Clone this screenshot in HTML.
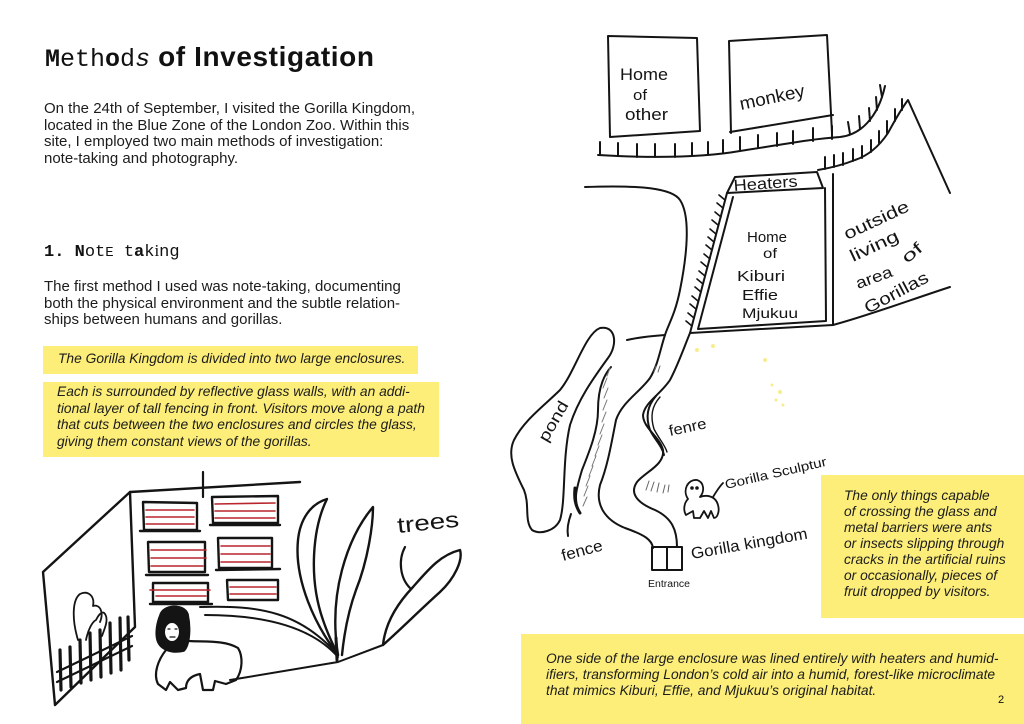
<!DOCTYPE html>
<html>
<head>
<meta charset="utf-8">
<style>
  html,body{margin:0;padding:0;background:#fff;}
  body{width:1024px;height:724px;overflow:hidden;position:relative;font-family:"Liberation Sans",sans-serif;color:#1c1c1c;}
  .abs{position:absolute;white-space:nowrap;}
  .p{font-size:15px;line-height:16.6px;}
  .it{font-style:italic;font-size:13.8px;line-height:16.6px;color:#1c1c1c;}
  .y{position:absolute;background:#fcee78;}
  svg{position:absolute;left:0;top:0;}
  .hw{font-family:"Liberation Sans",sans-serif;fill:#141414;}
</style>
</head>
<body>

<!-- yellow boxes -->
<div class="y" style="left:43px;top:346px;width:375px;height:28px;"></div>
<div class="y" style="left:43px;top:382px;width:396px;height:75px;"></div>
<div class="y" style="left:821px;top:475px;width:203px;height:143px;"></div>
<div class="y" style="left:521px;top:634px;width:503px;height:90px;"></div>

<!-- title -->
<div class="abs" style="left:45px;top:43px;line-height:28px;font-size:28px;font-weight:bold;color:#111;">
  <span style="font-family:'Liberation Mono',monospace;font-size:25px;font-weight:normal;letter-spacing:0px;"><b style="font-weight:900;">M</b>eth<b>o</b>d<i>s</i></span><span style="margin-left:8px;letter-spacing:0.6px;">of Investigation</span>
</div>

<div class="abs p" style="left:44px;top:101px;">On the 24th of September, I visited the Gorilla Kingdom,<br>located in the Blue Zone of the London Zoo. Within this<br>site, I employed two main methods of investigation:<br>note-taking and photography.</div>

<div class="abs" style="left:44px;top:241px;font-family:'Liberation Mono',monospace;font-size:17px;line-height:20px;color:#111;"><b>1. N</b>ot<span style="font-size:14px">E</span> t<b>a</b>k<span style="font-family:'Liberation Serif',serif">i</span>ng</div>

<div class="abs p" style="left:44px;top:279px;">The first method I used was note-taking, documenting<br>both the physical environment and the subtle relation-<br>ships between humans and gorillas.</div>

<div class="abs it" style="left:58px;top:351px;">The Gorilla Kingdom is divided into two large enclosures.</div>

<div class="abs it" style="left:57px;top:384px;">Each is surrounded by reflective glass walls, with an addi-<br>tional layer of tall fencing in front. Visitors move along a path<br>that cuts between the two enclosures and circles the glass,<br>giving them constant views of the gorillas.</div>

<div class="abs it" style="left:844px;top:488px;line-height:16px;">The only things capable<br>of crossing the glass and<br>metal barriers were ants<br>or insects slipping through<br>cracks in the artificial ruins<br>or occasionally, pieces of<br>fruit dropped by visitors.</div>

<div class="abs it" style="left:546px;top:651px;line-height:16px;">One side of the large enclosure was lined entirely with heaters and humid-<br>ifiers, transforming London’s cold air into a humid, forest-like microclimate<br>that mimics Kiburi, Effie, and Mjukuu’s original habitat.</div>

<div class="abs" style="left:998px;top:693px;font-size:11px;line-height:14px;color:#111;">2</div>

<svg width="1024" height="724" viewBox="0 0 1024 724" xmlns="http://www.w3.org/2000/svg">
  <g fill="none" stroke="#141414" stroke-width="2" stroke-linecap="round" stroke-linejoin="round">
    <!-- ============ MAP ============ -->
    <path d="M608,36 L697,38 L700,131 L610,137 Z"/>
    <path d="M731,133 L729,41 L827,35 L832,133"/>
    <path d="M730,132 L833,115"/>
    <path d="M598,155 C 650,158 700,158 740,151 C 780,145 810,139 840,137 C 860,135 878,118 885,86"/>
    <path d="M600,155 v-13 M618,156 v-13 M637,157 v-13 M655,157 v-13 M675,157 v-13 M692,156 v-13 M708,155 v-13 M723,153 v-13 M740,150 v-13 M758,148 v-13 M777,146 v-13 M793,144 v-13 M813,141 v-13 M832,139 v-13"/>
    <path d="M850,134 l-2,-12 M860,129 l-1,-13 M870,121 l-1,-13 M877,110 l-1,-13 M882,97 l-2,-12"/>
    <path d="M818,170 C 830,168 845,164 855,160 C 870,155 880,145 888,133 C 895,120 902,108 908,100 L950,193"/>
    <path d="M825,169 v-12 M834,167 v-12 M843,165 v-12 M853,161 v-12 M862,158 v-12 M871,152 v-12 M879,143 v-12 M887,133 v-12 M895,121 v-12 M902,110 v-11"/>
    <path d="M950,287 C 910,300 870,315 833,325"/>
    <path d="M735,177 L817,172 L823,188 L727,193 Z"/>
    <path d="M727,193 L690,333 L833,325 L833,174"/>
    <path d="M733,197 L698,329 L826,321 L825,188"/>
    <path stroke-width="1.6" d="M725,200 l-6,-5 M723,208 l-6,-5 M721,217 l-6,-5 M718,225 l-6,-5 M716,234 l-6,-5 M714,242 l-6,-5 M712,250 l-6,-5 M710,259 l-6,-5 M707,267 l-6,-5 M705,276 l-6,-5 M703,284 l-6,-5 M701,292 l-6,-5 M698,301 l-6,-5 M696,309 l-6,-5 M694,318 l-6,-5 M692,326 l-6,-5"/>
    <path d="M585,187 C 640,185 672,188 680,200 C 690,215 688,250 680,290 C 675,315 668,325 665,335 C 660,350 658,365 650,378 C 640,392 622,402 616,420 C 612,440 608,465 600,485 C 595,505 605,520 625,528 C 645,535 652,540 653,548"/>
    <path d="M690,333 C 685,345 678,365 670,380 C 660,395 645,402 643,415 C 643,428 660,437 663,450 C 665,465 645,472 637,482 C 630,492 635,502 655,510 C 672,518 677,530 677,547"/>
    <path d="M627,340 C 640,337 652,336 665,335"/>
    <path d="M656,396 C 648,405 645,416 650,430 C 655,440 662,446 664,455"/>
    <path d="M660,397 C 652,406 650,416 654,429 C 659,439 665,445 667,452" stroke-width="1.4"/>
    <path stroke="#666" stroke-width="1" d="M646,490 l3,-9 M651,491 l3,-9 M657,492 l2,-9 M663,493 l2,-8 M668,492 l1,-7 M654,372 l2,-6 M658,372 l2,-6"/>
    <path d="M600,328 C 616,325 618,345 608,358 C 592,380 578,400 570,425 C 562,460 566,500 560,520 C 555,531 540,535 532,530 C 524,520 530,505 524,490 C 514,470 507,455 514,440 C 524,420 545,405 560,390 C 575,372 585,334 600,328 Z"/>
    <path d="M611,367 C 603,376 598,390 598,410 C 598,430 590,450 582,470 C 576,490 573,500 580,513"/>
    <path stroke-width="3" d="M575,488 C 574,498 575,505 580,513"/>
    <path stroke="#777" stroke-width="1" d="M603,388 l4,-10 M604,398 l4,-10 M603,410 l4,-10 M602,422 l4,-10 M600,434 l4,-10 M598,445 l4,-10 M595,456 l4,-10 M592,466 l4,-10 M589,476 l4,-10 M586,486 l4,-10 M584,496 l4,-10 M583,506 l4,-9 M607,376 l3,-8"/>
    <path d="M571,514 C 568,522 567,530 568,536"/>
    <path d="M652,547 L682,547 L682,570 L652,570 Z M667,547 L667,570"/>
    <path stroke-width="1.8" d="M688,499 C 682,490 688,479 697,480 C 704,482 705,491 700,497 C 708,494 716,497 718,505 C 720,512 717,518 714,518 L711,511 L708,518 L704,511 L700,518 L694,518 L693,511 L686,515 C 683,510 684,503 688,499"/>
    <path stroke-width="1.8" d="M713,497 C 716,492 719,487 723,483"/>
    <circle cx="692" cy="488" r="0.8" fill="#141414"/>
    <circle cx="697" cy="488" r="0.8" fill="#141414"/>

    <!-- ============ LEFT SKETCH ============ -->
    <path stroke-width="2.4" d="M43,572 L130,492 L135,627 L55,705 Z"/>
    <path stroke-width="2.4" d="M130,492 L300,482"/>
    <path stroke-width="2.2" d="M203,472 L203,497"/>
    <g stroke-width="2.4">
      <path d="M143,502 L197,503 L197,530 L144,530 Z"/>
      <path d="M212,497 L278,496 L278,523 L213,523 Z"/>
      <path d="M148,542 L205,542 L205,572 L149,572 Z"/>
      <path d="M218,538 L272,538 L272,568 L219,568 Z"/>
      <path d="M153,583 L208,583 L208,602 L153,602 Z"/>
      <path d="M227,580 L278,580 L278,600 L228,600 Z"/>
      <path d="M140,531 L200,531 M210,525 L280,525 M146,575 L208,575 M216,570 L280,569 M150,604 L212,604"/>
    </g>
    <g stroke="#b8252d" stroke-width="1.6">
      <path d="M146,510 L194,510 M146,517 L194,517 M146,524 L194,524"/>
      <path d="M215,504 L275,503 M215,511 L275,511 M215,518 L275,518"/>
      <path d="M151,550 L206,550 M151,558 L206,558 M151,566 L203,566"/>
      <path d="M221,546 L270,546 M221,554 L270,554 M221,562 L270,562"/>
      <path d="M150,590 L210,590 M156,596 L206,596"/>
      <path d="M230,587 L276,587 M230,594 L276,594"/>
    </g>
    <path d="M200,607 C 260,605 300,612 338,655"/>
    <path d="M205,615 C 260,615 310,625 338,657"/>
    <path d="M230,680 L338,662 L383,645"/>
    <path stroke-width="2.4" d="M338,655 C 315,625 294,580 298,540 C 300,520 310,504 327,499 C 313,527 308,577 323,620 C 327,632 333,645 338,655"/>
    <path stroke-width="2.4" d="M338,655 C 334,630 334,600 342,570 C 350,540 362,520 373,507 C 373,525 368,560 356,590 C 348,612 344,635 342,655"/>
    <path stroke-width="2.4" d="M383,645 C 385,625 396,605 413,587 C 428,570 440,555 460,550 C 463,560 455,578 440,592 C 420,610 400,630 383,645"/>
    <path stroke-width="3" d="M336,638 L337,660"/>
    <path stroke-width="2.2" d="M405,547 C 398,560 400,578 410,588"/>
    <path fill="#141414" stroke-width="1.5" d="M160,615 C 163,604 184,603 188,614 C 191,628 190,645 184,651 C 172,654 160,650 157,640 C 155,632 157,622 160,615 Z"/>
    <ellipse cx="172" cy="632" rx="7" ry="9" fill="#fff" stroke="none"/>
    <path stroke-width="1.2" d="M168,629 l2,0 M175,629 l2,0 M170,637 l5,0"/>
    <path stroke-width="2.2" d="M166,650 C 158,660 153,674 158,684 L166,690 L170,682 L178,690 L186,688 C 186,681 190,676 200,674 L203,690 L213,690 L215,681 L226,684 L236,680 C 243,670 243,656 238,648 C 225,640 205,642 189,641"/>
    <path stroke-width="1.8" d="M78,640 C 72,620 72,600 80,594 C 88,590 95,596 93,606 C 100,604 104,612 100,622 M86,640 C 88,630 92,622 96,620 C 100,612 104,610 106,616 C 108,622 104,630 102,636"/>
    <path stroke-width="3.2" d="M60,650 L61,690 M70,647 L71,687 M80,640 L81,683 M90,633 L91,680 M100,630 L101,677 M110,623 L111,673 M120,618 L121,670 M128,617 L129,660"/>
    <path stroke-width="2.2" d="M57,672 L132,636 M57,682 L132,646"/>
  </g>

  <g fill="#f4ea6e" opacity="0.8">
    <circle cx="697" cy="350" r="2"/><circle cx="713" cy="346" r="2"/><circle cx="765" cy="360" r="2"/>
    <circle cx="772" cy="385" r="1.5"/><circle cx="780" cy="392" r="2"/><circle cx="776" cy="400" r="1.5"/><circle cx="783" cy="405" r="1.5"/>
  </g>

  <g class="hw">
    <text x="620" y="80" font-size="17" textLength="48" lengthAdjust="spacingAndGlyphs">Home</text>
    <text x="633" y="100" font-size="15" textLength="14" lengthAdjust="spacingAndGlyphs">of</text>
    <text x="625" y="120" font-size="17" textLength="43" lengthAdjust="spacingAndGlyphs">other</text>
    <text x="741" y="110" font-size="18" textLength="66" lengthAdjust="spacingAndGlyphs" transform="rotate(-12 741 110)">monkey</text>
    <text x="734" y="191" font-size="16" textLength="64" lengthAdjust="spacingAndGlyphs" transform="rotate(-4 734 191)">Heaters</text>
    <text x="747" y="242" font-size="15" textLength="40" lengthAdjust="spacingAndGlyphs">Home</text>
    <text x="763" y="258" font-size="14" textLength="14" lengthAdjust="spacingAndGlyphs">of</text>
    <text x="737" y="281" font-size="15" textLength="48" lengthAdjust="spacingAndGlyphs">Kiburi</text>
    <text x="742" y="300" font-size="15" textLength="36" lengthAdjust="spacingAndGlyphs">Effie</text>
    <text x="742" y="318" font-size="14" textLength="56" lengthAdjust="spacingAndGlyphs">Mjukuu</text>
    <text x="847" y="240" font-size="17" textLength="70" lengthAdjust="spacingAndGlyphs" transform="rotate(-25 847 240)">outside</text>
    <text x="853" y="262" font-size="17" textLength="52" lengthAdjust="spacingAndGlyphs" transform="rotate(-25 853 262)">living</text>
    <text x="858" y="289" font-size="16" textLength="38" lengthAdjust="spacingAndGlyphs" transform="rotate(-20 858 289)">area</text>
    <text x="907" y="264" font-size="16" textLength="22" lengthAdjust="spacingAndGlyphs" transform="rotate(-40 907 264)">of</text>
    <text x="868" y="314" font-size="17" textLength="70" lengthAdjust="spacingAndGlyphs" transform="rotate(-28 868 314)">Gorillas</text>
    <text x="547" y="443" font-size="16" textLength="44" lengthAdjust="spacingAndGlyphs" transform="rotate(-60 547 443)">pond</text>
    <text x="670" y="436" font-size="15" textLength="38" lengthAdjust="spacingAndGlyphs" transform="rotate(-12 670 436)">fenre</text>
    <text x="726" y="489" font-size="13" textLength="104" lengthAdjust="spacingAndGlyphs" transform="rotate(-13 726 489)">Gorilla Sculptur</text>
    <text x="563" y="561" font-size="16" textLength="42" lengthAdjust="spacingAndGlyphs" transform="rotate(-15 563 561)">fence</text>
    <text x="692" y="559" font-size="16" textLength="118" lengthAdjust="spacingAndGlyphs" transform="rotate(-10 692 559)">Gorilla kingdom</text>
    <text x="648" y="587" font-size="10" textLength="42" lengthAdjust="spacingAndGlyphs">Entrance</text>
    <text x="398" y="533" font-size="22" textLength="62" lengthAdjust="spacingAndGlyphs" transform="rotate(-6 398 533)">trees</text>
  </g>
</svg>

</body>
</html>
